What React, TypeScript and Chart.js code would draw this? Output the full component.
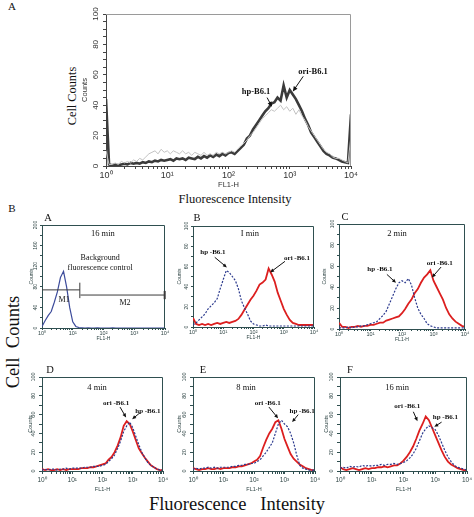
import React, { useEffect, useRef } from "react";
import { Chart, registerables } from "chart.js";
Chart.register(...registerables);

// ---------- data ----------
// bin positions, in decades of FL1-H (log10)
const BINS_FINE = [0,0.05,0.1,0.15,0.2,0.25,0.3,0.35,0.4,0.45,0.5,0.55,0.6,0.65,0.7,0.75,0.8,0.85,0.9,0.95,1,1.05,1.1,1.15,1.2,1.25,1.3,1.35,1.4,1.45,1.5,1.55,1.6,1.65,1.7,1.75,1.8,1.85,1.9,1.95,2,2.05,2.1,2.15,2.2,2.25,2.3,2.35,2.4,2.45,2.5,2.55,2.6,2.65,2.7,2.75,2.8,2.85,2.9,2.95,3,3.05,3.1,3.15,3.2,3.25,3.3,3.35,3.4,3.45,3.5,3.55,3.6,3.65,3.7,3.75,3.8,3.85,3.9,3.95,4];
const BINS = [0,0.1,0.2,0.3,0.4,0.5,0.6,0.7,0.8,0.9,1,1.1,1.2,1.3,1.4,1.5,1.6,1.7,1.8,1.9,2,2.1,2.2,2.3,2.4,2.5,2.6,2.7,2.8,2.9,3,3.1,3.2,3.3,3.4,3.5,3.6,3.7,3.8,3.9,4];

// Panel (top) A
const TOP_ORI = [44,1,0.5,1,0.5,1,1.5,1,2,1.5, 2,1.5,2.5,2,3,2.5,3.5,3,4,3.5, 4,4.5,3.5,5,4.5,5,4,5.5,5,4.5, 6,5,6.5,5.5,7,6,7.5,6.5,8,7, 8.5,9,8,10,12,14,18,20,24,27, 30,33,36,38,41,42,45,43,53,45, 50,47,44,40,36,31,27,22,19,16, 13,10,8,7,5.5,5,4,3,2.5,2, 34];
const TOP_HP = [10,1,1,2,1,3,2,3,2,4, 3,5,4,6,8,9,10,8,11,9, 10,8,10,9,8,10,8,9,7,9, 8,7,9,7,8,7,9,8,9,8, 9,10,9,11,13,15,17,20,22,25, 28,31,33,35,37,36,38,40,37,39, 36,38,34,37,33,30,26,23,20,17, 14,11,9,8,6,5,5,4,3,2, 20];

// Panels B-A .. B-F
const A_BG = [3,14,24,32,50,70,98,110,80,40, 12,3,1,0.5,0,0.5,0,0,0.5,0, 0,0,0,0.5,0,0,0,0,0,0, 0,0,0,0,0,0,0,0,0,0, 0];
const B_HP = [2,4,7,10,13,18,21,24,28,38, 47,56,54,50,46,38,26,19,13,6, 3,2,1,1,2,1,1,1,1,1, 1,1,1,1,1,1,1,1,1,1, 1];
const B_ORI = [9,3,2,3,2,3,2,3,4,3, 4,5,4,5,6,8,12,17,22,27, 31,36,42,44,47,58,52,45,34,26, 18,12,7,4,3,2,2,2,2,2, 2];
const C_HP = [1,1,1,2,1,2,2,3,3,4, 5,6,7,10,13,17,24,31,38,44, 46,44,48,42,30,20,14,10,5,3, 2,1,1,1,1,1,1,1,1,1, 1];
const C_ORI = [6,2,2,1,2,2,3,2,3,3, 4,4,5,6,6,8,9,10,11,12, 15,19,24,28,34,38,44,49,52,56, 46,40,34,28,20,14,10,7,5,3, 2];
const D_ORI = [2,1,2,1,1,2,1,2,1,2, 2,2,2,3,3,3,4,4,5,6, 7,8,12,15,20,27,36,48,53,50, 42,33,24,19,14,10,6,4,2,1, 1];
const D_HP = [1,2,1,2,2,1,2,2,3,2, 3,3,3,3,4,4,4,5,5,5, 6,7,10,13,17,24,32,42,48,52, 46,37,28,20,14,9,6,4,2,1, 1];
const E_ORI = [3,2,1,2,2,3,2,2,3,2, 3,3,3,4,4,5,5,6,7,8, 10,12,16,25,33,40,45,52,54,45, 34,26,18,13,10,7,5,3,2,1, 1];
const E_HP = [2,3,2,3,3,4,3,4,3,4, 4,4,4,5,5,6,6,7,7,8, 8,10,12,16,20,25,30,40,50,54, 50,47,40,30,17,6,3,2,1,1, 1];
const F_ORI = [4,2,1,2,3,2,1,2,3,2, 3,3,4,4,5,4,5,6,6,8, 11,15,20,26,34,43,50,58,54,46, 38,30,22,15,10,7,5,3,2,1, 1];
const F_HP = [3,4,3,5,4,5,4,6,5,6, 5,6,6,7,6,7,7,8,7,8, 9,11,14,18,24,32,40,45,48,46, 44,38,30,22,15,10,6,4,3,2, 1];

const X_DECADES = ["10\u2070", "10\u00b9", "10\u00b2", "10\u00b3", "10\u2074"];

// ---------- types ----------
type Pt = [number, number];
type Txt = { text: string; at: Pt; font: string };
type Arw = { from: Pt; to: Pt };
type Seg = { from: Pt; to: Pt; w?: number };
type Series = { label: string; data: number[]; color: string; width: number; dash?: number[] };
type PanelCfg = {
  left: number; top: number; plotW: number; plotH: number;
  yW: number; xH: number; pt: number; pr: number;
  bins: number[]; series: Series[];
  yMax: number; yStep: number; yLabelEvery: number;
  frameColor: string; axisColor: string; labelColor: string;
  yFont: number; xFont: number; titleFont: number; tl: number; xPad: number; yPad: number;
  texts: Txt[]; arrows: Arw[]; segs: Seg[]; head: number;
};

const SANS = "'Liberation Sans', Arial, sans-serif";
const SERIF = '"Liberation Serif", "Times New Roman", serif';

function decadeTicks(scale: any) {
  const t: any[] = [];
  for (let d = 0; d <= 4; d++) {
    t.push({ value: d });
    if (d < 4) for (let k = 2; k <= 9; k++) t.push({ value: d + Math.log10(k) });
  }
  scale.ticks = t;
}

function drawArrow(ctx: CanvasRenderingContext2D, x1: number, y1: number, x2: number, y2: number, head: number) {
  const a = Math.atan2(y2 - y1, x2 - x1);
  const c = Math.cos(a), s = Math.sin(a);
  ctx.beginPath();
  ctx.moveTo(x1, y1);
  ctx.lineTo(x2 - c * head * 0.7, y2 - s * head * 0.7);
  ctx.stroke();
  ctx.beginPath();
  ctx.moveTo(x2, y2);
  ctx.lineTo(x2 - head * c + head * 0.45 * s, y2 - head * s - head * 0.45 * c);
  ctx.lineTo(x2 - head * c - head * 0.45 * s, y2 - head * s + head * 0.45 * c);
  ctx.closePath();
  ctx.fill();
}

function buildConfig(p: PanelCfg): any {
  const decor = {
    id: "panelDecor",
    afterDatasetsDraw(chart: any) {
      const { ctx, chartArea: a, scales } = chart;
      const X = (v: number) => scales.x.getPixelForValue(v);
      const Y = (v: number) => scales.y.getPixelForValue(v);
      ctx.save();
      ctx.strokeStyle = p.frameColor;
      ctx.lineWidth = 1;
      ctx.beginPath();
      ctx.moveTo(a.left, Math.round(a.top) + 0.5);
      ctx.lineTo(Math.round(a.right) - 0.5, Math.round(a.top) + 0.5);
      ctx.lineTo(Math.round(a.right) - 0.5, a.bottom);
      ctx.stroke();
      ctx.strokeStyle = "#3a3a3a";
      for (const s of p.segs) {
        ctx.lineWidth = s.w || 1;
        ctx.beginPath();
        ctx.moveTo(X(s.from[0]), Y(s.from[1]));
        ctx.lineTo(X(s.to[0]), Y(s.to[1]));
        ctx.stroke();
      }
      ctx.strokeStyle = "#111";
      ctx.fillStyle = "#111";
      ctx.lineWidth = 1;
      for (const r of p.arrows) {
        drawArrow(ctx, X(r.from[0]), Y(r.from[1]), X(r.to[0]), Y(r.to[1]), p.head);
      }
      ctx.textAlign = "center";
      ctx.textBaseline = "middle";
      for (const t of p.texts) {
        ctx.font = t.font;
        ctx.fillText(t.text, X(t.at[0]), Y(t.at[1]));
      }
      ctx.restore();
    },
  };
  const zeroPad = (s: any) => {
    s.paddingLeft = 0; s.paddingRight = 0; s.paddingTop = 0; s.paddingBottom = 0;
  };
  return {
    type: "line",
    data: {
      datasets: p.series.map((s) => ({
        label: s.label,
        data: p.bins.map((x, i) => ({ x, y: s.data[i] })),
        borderColor: s.color,
        borderWidth: s.width,
        borderDash: s.dash || [],
        pointRadius: 0,
        fill: false,
        tension: 0,
      })),
    },
    options: {
      responsive: false,
      animation: false,
      events: [],
      layout: { padding: { left: 0, right: p.pr, top: p.pt, bottom: 0 }, autoPadding: false },
      plugins: { legend: { display: false }, tooltip: { enabled: false } },
      scales: {
        x: {
          type: "linear",
          min: 0,
          max: 4,
          afterBuildTicks: decadeTicks,
          afterFit: (s: any) => { s.height = p.xH; zeroPad(s); },
          ticks: {
            autoSkip: false, minRotation: 0, maxRotation: 0, padding: p.xPad,
            color: p.labelColor, font: { family: SANS, size: p.xFont },
            callback: (v: number) => (Number.isInteger(v) ? X_DECADES[v] : ""),
          },
          grid: { display: true, drawOnChartArea: false, drawTicks: true, tickLength: p.tl, color: p.axisColor, tickColor: p.axisColor },
          border: { display: true, color: p.axisColor, width: 1 },
          title: { display: true, text: "FL1-H", padding: 0, color: p.labelColor, font: { family: SANS, size: p.titleFont } },
        },
        y: {
          type: "linear",
          min: 0,
          max: p.yMax,
          afterFit: (s: any) => { s.width = p.yW; zeroPad(s); },
          ticks: {
            stepSize: p.yStep, autoSkip: false, minRotation: 90, maxRotation: 90, crossAlign: "center",
            padding: p.yPad, color: p.labelColor, font: { family: SANS, size: p.yFont },
            callback: (v: number) => (Math.round(v) % p.yLabelEvery === 0 ? String(v) : ""),
          },
          grid: { display: true, drawOnChartArea: false, drawTicks: true, tickLength: p.tl, color: p.axisColor, tickColor: p.axisColor },
          border: { display: true, color: p.axisColor, width: 1 },
          title: { display: true, text: "Counts", padding: 0, color: p.labelColor, font: { family: SANS, size: p.titleFont } },
        },
      },
    },
    plugins: [decor],
  };
}

function HistPanel({ cfg }: { cfg: PanelCfg }) {
  const ref = useRef<HTMLCanvasElement>(null);
  useEffect(() => {
    const chart = new Chart(ref.current as HTMLCanvasElement, buildConfig(cfg));
    return () => chart.destroy();
  }, []);
  const w = cfg.yW + cfg.plotW + cfg.pr;
  const h = cfg.pt + cfg.plotH + cfg.xH;
  return (
    <canvas
      ref={ref}
      width={w}
      height={h}
      style={{ position: "absolute", left: cfg.left - cfg.yW, top: cfg.top - cfg.pt, width: w, height: h }}
    />
  );
}

// ---------- panel settings ----------
const RED = "#dc1f1f";
const NAVY = "#2c3a8e";
const TEAL = "#2f4f50";

const annS = `bold 7px ${SERIF}`;
const timeF = `8.5px ${SERIF}`;

const small = (o: Partial<PanelCfg>): PanelCfg => ({
  left: 0, top: 0, plotW: 120, plotH: 100, yW: 16, xH: 14, pt: 6, pr: 9,
  bins: BINS, series: [], yMax: 100, yStep: 10, yLabelEvery: 20,
  frameColor: TEAL, axisColor: TEAL, labelColor: "#2f4545",
  yFont: 5, xFont: 5.5, titleFont: 5, tl: 2, xPad: 0, yPad: 0.5,
  texts: [], arrows: [], segs: [], head: 4,
  ...o,
});
const row2 = { plotH: 94, top: 377, xH: 22, yFont: 5.5, xFont: 6.5, titleFont: 5.5, tl: 3, xPad: 2 };

const hpS = (d: number[]): Series => ({ label: "hp-B6.1", data: d, color: NAVY, width: 1.2, dash: [2, 1.5] });
const oriS = (d: number[]): Series => ({ label: "ori-B6.1", data: d, color: RED, width: 1.8 });

const TOP: PanelCfg = {
  left: 106, top: 14, plotW: 245, plotH: 152, yW: 26, xH: 23, pt: 10, pr: 12,
  bins: BINS_FINE,
  series: [
    { label: "hp-B6.1", data: TOP_HP, color: "#c2c2c2", width: 1 },
    { label: "ori-B6.1", data: TOP_ORI, color: "#3b3b3b", width: 2.6 },
  ],
  yMax: 100, yStep: 5, yLabelEvery: 20,
  frameColor: "#9a9a9a", axisColor: "#444", labelColor: "#333",
  yFont: 8, xFont: 9, titleFont: 7.5, tl: 3, xPad: 1, yPad: 1,
  texts: [
    { text: "hp-B6.1", at: [2.45, 49], font: `bold 8.5px ${SERIF}` },
    { text: "ori-B6.1", at: [3.38, 62], font: `bold 8.5px ${SERIF}` },
  ],
  arrows: [
    { from: [2.63, 45], to: [2.71, 39] },
    { from: [3.22, 59], to: [3.05, 49] },
  ],
  segs: [],
  head: 5,
};

const PANELS: PanelCfg[] = [
  small({
    left: 42, top: 225, plotW: 123, plotH: 103, yW: 13,
    yMax: 200, yStep: 20, yLabelEvery: 40,
    series: [{ label: "background", data: A_BG, color: "#3c4b9b", width: 1.2 }],
    texts: [
      { text: "16 min", at: [1.98, 183], font: timeF },
      { text: "Background", at: [1.89, 136], font: `8px ${SERIF}` },
      { text: "fluorescence control", at: [1.89, 117], font: `8px ${SERIF}` },
      { text: "M1", at: [0.72, 54], font: `8px ${SERIF}` },
      { text: "M2", at: [2.7, 49], font: `8px ${SERIF}` },
    ],
    segs: [
      { from: [0, 74], to: [1.23, 74] },
      { from: [1.23, 58], to: [1.23, 88] },
      { from: [1.25, 64], to: [4, 64] },
      { from: [3.99, 56], to: [3.99, 72], w: 2 },
    ],
  }),
  small({
    left: 193, top: 226, plotW: 121, plotH: 101, yW: 16,
    series: [hpS(B_HP), oriS(B_ORI)],
    texts: [
      { text: "I min", at: [1.88, 92], font: timeF },
      { text: "hp -B6.1", at: [0.66, 74], font: annS },
      { text: "ori -B6.1", at: [3.44, 68], font: annS },
    ],
    arrows: [
      { from: [0.72, 69], to: [1.12, 59] },
      { from: [3.04, 65], to: [2.55, 54] },
    ],
  }),
  small({
    left: 339, top: 224, plotW: 126, plotH: 105, yW: 17,
    series: [hpS(C_HP), oriS(C_ORI)],
    texts: [
      { text: "2 min", at: [1.84, 91], font: timeF },
      { text: "hp -B6.1", at: [1.3, 57], font: annS },
      { text: "ori -B6.1", at: [3.2, 63], font: annS },
    ],
    arrows: [
      { from: [1.52, 52], to: [1.81, 44] },
      { from: [3.24, 59], to: [2.95, 49] },
    ],
  }),
  small({
    ...row2, left: 42, plotW: 121, yW: 15,
    series: [hpS(D_HP), oriS(D_ORI)],
    texts: [
      { text: "4 min", at: [1.82, 89], font: timeF },
      { text: "ori -B6.1", at: [2.45, 72], font: annS },
      { text: "hp -B6.1", at: [3.5, 64], font: annS },
    ],
    arrows: [
      { from: [2.58, 68], to: [2.78, 57] },
      { from: [3.24, 62], to: [2.98, 55] },
    ],
  }),
  small({
    ...row2, left: 193, plotW: 122, yW: 17,
    series: [hpS(E_HP), oriS(E_ORI)],
    texts: [
      { text: "8 min", at: [1.74, 89], font: timeF },
      { text: "ori -B6.1", at: [2.45, 72], font: annS },
      { text: "hp -B6.1", at: [3.58, 64], font: annS },
    ],
    arrows: [
      { from: [2.49, 68], to: [2.79, 56] },
      { from: [3.45, 60], to: [3.25, 52] },
    ],
  }),
  small({
    ...row2, left: 340, plotW: 127, yW: 17,
    series: [hpS(F_HP), oriS(F_ORI)],
    texts: [
      { text: "16 min", at: [1.8, 89], font: timeF },
      { text: "ori -B6.1", at: [2.12, 69], font: annS },
      { text: "hp -B6.1", at: [3.32, 57], font: annS },
    ],
    arrows: [
      { from: [2.31, 63], to: [2.44, 53] },
      { from: [3.2, 52], to: [2.97, 47] },
    ],
  }),
];

// ---------- html labels ----------
type Lbl = { text: string; x: number; y: number; size: number; rot?: boolean };
const LABELS: Lbl[] = [
  { text: "A", x: 12, y: 6, size: 11 },
  { text: "B", x: 12, y: 208, size: 11 },
  { text: "Cell Counts", x: 72, y: 96, size: 12.3, rot: true },
  { text: "Fluorescence Intensity", x: 235, y: 199, size: 12.5 },
  { text: "A", x: 48, y: 218, size: 10.5 },
  { text: "B", x: 197, y: 218, size: 10.5 },
  { text: "C", x: 345, y: 217, size: 10.5 },
  { text: "D", x: 50, y: 370, size: 10.5 },
  { text: "E", x: 203, y: 370, size: 10.5 },
  { text: "F", x: 350, y: 370, size: 10.5 },
  { text: "Cell  Counts", x: 13, y: 342, size: 18.5, rot: true },
  { text: "Fluorescence   Intensity", x: 237, y: 504, size: 18.5 },
];

export default function App() {
  return (
    <div style={{ position: "absolute", left: 0, top: 0, width: 474, height: 517, background: "#fff", overflow: "hidden" }}>
      <HistPanel cfg={TOP} />
      {PANELS.map((c, i) => (
        <HistPanel key={i} cfg={c} />
      ))}
      {LABELS.map((l, i) => (
        <div
          key={"l" + i}
          style={{
            position: "absolute",
            left: l.x,
            top: l.y,
            transform: `translate(-50%, -50%)${l.rot ? " rotate(-90deg)" : ""}`,
            fontFamily: SERIF,
            fontSize: l.size,
            lineHeight: 1,
            whiteSpace: "pre",
            color: "#111",
          }}
        >
          {l.text}
        </div>
      ))}
    </div>
  );
}
